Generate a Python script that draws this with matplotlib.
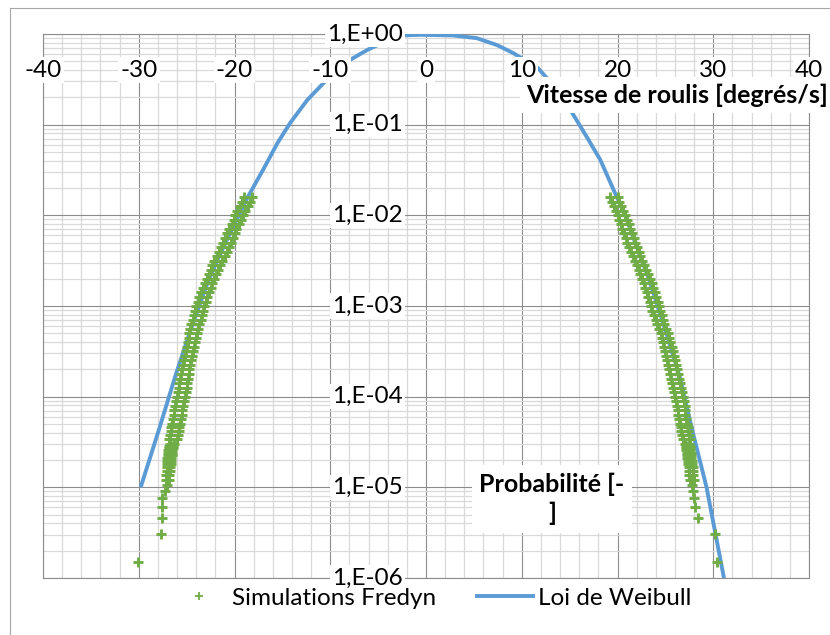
import numpy as np
import matplotlib
matplotlib.use('Agg')
import matplotlib.pyplot as plt
from matplotlib.ticker import LogLocator, MultipleLocator, NullFormatter

plt.rcParams['font.family'] = ['Lato', 'DejaVu Sans']

# exceedance probability levels shared by both tails
prob = [1.585e-2, 1.413e-2, 1.259e-2, 1.122e-2, 1.0e-2,
        8.91e-3, 7.94e-3, 7.08e-3, 6.31e-3, 5.62e-3, 5.01e-3, 4.47e-3, 3.98e-3, 3.55e-3, 3.16e-3,
        2.82e-3, 2.51e-3, 2.24e-3, 2.0e-3, 1.78e-3, 1.58e-3, 1.41e-3, 1.26e-3, 1.12e-3, 1.0e-3,
        8.91e-4, 7.94e-4, 7.08e-4, 6.31e-4, 5.62e-4, 5.01e-4, 4.47e-4, 3.98e-4, 3.55e-4, 3.16e-4,
        2.82e-4, 2.51e-4, 2.24e-4, 2.0e-4, 1.78e-4, 1.58e-4, 1.41e-4, 1.26e-4, 1.12e-4, 1.0e-4,
        8.91e-5, 7.94e-5, 7.08e-5, 6.31e-5, 5.62e-5, 5.01e-5,
        4.6e-5, 4.2e-5, 3.8e-5, 3.4e-5,
        3.03e-5, 2.88e-5, 2.73e-5, 2.58e-5, 2.42e-5, 2.27e-5, 2.12e-5, 1.97e-5, 1.82e-5, 1.67e-5,
        1.52e-5, 1.36e-5, 1.21e-5,
        1.06e-5, 9.09e-6, 7.58e-6, 6.06e-6, 4.55e-6, 3.03e-6, 1.52e-6]

# Fredyn roll rates, negative side: outer and inner edge of the run scatter
fredyn_neg_outer = [-19.0, -19.2, -19.4, -19.7, -19.9,
                    -20.1, -20.3, -20.6, -20.8, -21.0, -21.2, -21.4, -21.6, -21.8, -22.1,
                    -22.3, -22.5, -22.7, -22.9, -23.1, -23.3, -23.5, -23.7, -23.8, -24.0,
                    -24.1, -24.2, -24.3, -24.5, -24.6, -24.7, -24.8, -24.9, -25.0, -25.1,
                    -25.2, -25.3, -25.4, -25.5, -25.6, -25.7, -25.8, -25.8, -25.9, -26.0,
                    -26.1, -26.2, -26.3, -26.3, -26.4, -26.5,
                    -26.6, -26.6, -26.7, -26.8,
                    -26.7, -26.8, -26.8, -26.9, -26.9, -26.9, -27.0, -27.0, -27.0, -27.1,
                    -27.1, -27.2, -27.2,
                    -27.1, -27.3, -27.6, -27.6, -27.6, -27.7, -30.1]
fredyn_neg_inner = [-18.2, -18.4, -18.6, -18.9, -19.1,
                    -19.3, -19.5, -19.8, -20.0, -20.2, -20.4, -20.6, -20.8, -21.0, -21.3,
                    -21.5, -21.7, -21.9, -22.1, -22.3, -22.5, -22.7, -22.9, -23.0, -23.2,
                    -23.3, -23.4, -23.5, -23.7, -23.8, -23.9, -24.0, -24.1, -24.2, -24.3,
                    -24.4, -24.5, -24.6, -24.7, -24.8, -24.9, -25.0, -25.0, -25.1, -25.2,
                    -25.3, -25.4, -25.5, -25.5, -25.6, -25.7,
                    -25.8, -25.8, -25.9, -26.0,
                    -26.3, -26.4, -26.4, -26.5, -26.5, -26.5, -26.6, -26.6, -26.6, -26.7,
                    -26.7, -26.8, -26.8]

# Fredyn roll rates, positive side
fredyn_pos_outer = [20.0, 20.2, 20.4, 20.6, 20.8,
                    21.0, 21.2, 21.3, 21.5, 21.7, 21.8, 22.0, 22.2, 22.4, 22.6,
                    22.8, 23.0, 23.2, 23.4, 23.6, 23.7, 23.9, 24.0, 24.2, 24.3,
                    24.4, 24.6, 24.8, 24.9, 25.1, 25.3, 25.4, 25.5, 25.7, 25.8,
                    25.9, 26.0, 26.1, 26.2, 26.3, 26.4, 26.5, 26.6, 26.7, 26.8,
                    26.9, 27.0, 27.1, 27.1, 27.2, 27.3,
                    27.4, 27.4, 27.5, 27.6,
                    27.5, 27.6, 27.6, 27.6, 27.7, 27.7, 27.7, 27.8, 27.8, 27.9,
                    27.9, 27.9, 28.0,
                    27.8, 27.9, 28.0, 28.1, 28.4, 30.2, 30.4]
fredyn_pos_inner = [19.2, 19.4, 19.6, 19.8, 20.0,
                    20.2, 20.4, 20.5, 20.7, 20.9, 21.0, 21.2, 21.4, 21.6, 21.8,
                    22.0, 22.2, 22.4, 22.6, 22.8, 22.9, 23.1, 23.2, 23.4, 23.5,
                    23.6, 23.8, 24.0, 24.1, 24.3, 24.5, 24.6, 24.7, 24.9, 25.0,
                    25.1, 25.2, 25.3, 25.4, 25.5, 25.6, 25.7, 25.8, 25.9, 26.0,
                    26.1, 26.2, 26.3, 26.3, 26.4, 26.5,
                    26.6, 26.6, 26.7, 26.8,
                    27.1, 27.2, 27.2, 27.2, 27.3, 27.3, 27.3, 27.4, 27.4, 27.5,
                    27.5, 27.5, 27.6]

# fitted Weibull law
weibull_x = [-29.8, -27.9, -26.2, -24.7, -23.0, -21.8, -20.3, -18.6, -17.0, -15.5,
             -14.2, -12.4, -11.1, -9.7, -7.9, -6.1, -4.3, -2.4, -0.6, 2.8,
             5.3, 7.4, 9.1, 11.7, 13.6, 15.4, 16.8, 18.2, 19.6, 20.8,
             22.0, 23.3, 24.2, 25.2, 26.5, 27.8, 29.3, 31.2]
weibull_p = [1.0e-5, 4.3e-5, 1.66e-4, 5.0e-4, 1.6e-3, 3.2e-3, 6.9e-3, 1.6e-2, 3.2e-2, 6.3e-2,
             0.104, 0.187, 0.26, 0.37, 0.52, 0.67, 0.82, 0.965, 0.98, 0.965,
             0.90, 0.756, 0.617, 0.42, 0.25, 0.128, 0.073, 0.041, 0.019, 1.0e-2,
             4.5e-3, 1.95e-3, 1.0e-3, 4.6e-4, 1.66e-4, 4.3e-5, 1.0e-5, 9.0e-7]

x_ticks = [-40, -30, -20, -10, 0, 10, 20, 30, 40]
y_ticks = [1, 1e-1, 1e-2, 1e-3, 1e-4, 1e-5, 1e-6]
y_labels = ['1,E+00', '1,E-01', '1,E-02', '1,E-03', '1,E-04', '1,E-05', '1,E-06']

green = '#70AD47'
blue = '#5B9BD5'
W, H = 830, 635

fig = plt.figure(figsize=(W / 100, H / 100), dpi=100)
ax = fig.add_axes([43 / W, 1 - 578 / H, 766 / W, 544 / H])
ax.set_yscale('log')
ax.set_xlim(-40, 40)
ax.set_ylim(1e-6, 1)

ax.set_xticks(x_ticks)
ax.xaxis.set_minor_locator(MultipleLocator(2))
ax.yaxis.set_major_locator(LogLocator(base=10, numticks=20))
ax.yaxis.set_minor_locator(LogLocator(base=10, subs=np.arange(2, 10), numticks=100))
ax.yaxis.set_minor_formatter(NullFormatter())
ax.tick_params(which='both', length=0, labelbottom=False, labelleft=False)
ax.set_axisbelow(True)
ax.grid(which='minor', color='#D9D9D9', lw=0.9)
ax.grid(which='major', color='#8C8C8C', lw=0.8)
for s in ax.spines.values():
    s.set_color('#8C8C8C')
    s.set_linewidth(0.8)

ax.plot(weibull_x, weibull_p, color=blue, lw=2.8, solid_capstyle='butt', zorder=3)
mk = dict(ls='none', marker='+', ms=7, mew=2.1, color=green, zorder=4)
ax.plot(fredyn_neg_outer, prob, **mk)
ax.plot(fredyn_neg_inner, prob[:len(fredyn_neg_inner)], **mk)
ax.plot(fredyn_pos_outer, prob, **mk)
ax.plot(fredyn_pos_inner, prob[:len(fredyn_pos_inner)], **mk)

# tick labels sit inside the plot with white boxes, like the spreadsheet chart
box = dict(fc='white', ec='none', pad=1.5)
for x in x_ticks:
    ax.text(x, 0.40, str(x), ha='center', va='center', fontsize=17.5, bbox=box, zorder=6)
for y, lab in zip(y_ticks, y_labels):
    ax.text(-2.4, y, lab, ha='right', va='center', fontsize=17.5, bbox=box, zorder=6)

fig.text(677 / W, 1 - 95 / H, 'Vitesse de roulis [degrés/s]', fontsize=18, fontweight='bold',
         ha='center', va='center', zorder=10,
         bbox=dict(boxstyle='square,pad=0.25', fc='white', ec='none'))
fig.text(552 / W, 1 - 499 / H, 'Probabilité [-\n]', fontsize=18, fontweight='bold',
         ha='center', va='center', multialignment='center', linespacing=1.3, zorder=10,
         bbox=dict(boxstyle='square,pad=0.3', fc='white', ec='none'))

handles = [plt.Line2D([], [], ls='none', marker='+', ms=6, mew=1.3, color=green),
           plt.Line2D([], [], color=blue, lw=2.8)]
fig.legend(handles, ['Simulations Fredyn', 'Loi de Weibull'], loc='center',
           bbox_to_anchor=(431 / W, 1 - 598 / H), ncol=2, frameon=False, fontsize=17.5,
           handlelength=2.3, handletextpad=0.2, columnspacing=1.7, numpoints=1)

# chart area border
fig.add_artist(plt.Line2D([10 / W, 10 / W], [0, 1 - 8 / H], transform=fig.transFigure,
                          color='#A6A6A6', lw=0.8))
fig.add_artist(plt.Line2D([10 / W, 1], [1 - 8 / H, 1 - 8 / H], transform=fig.transFigure,
                          color='#A6A6A6', lw=0.8))

fig.savefig('out.png', dpi=100)
